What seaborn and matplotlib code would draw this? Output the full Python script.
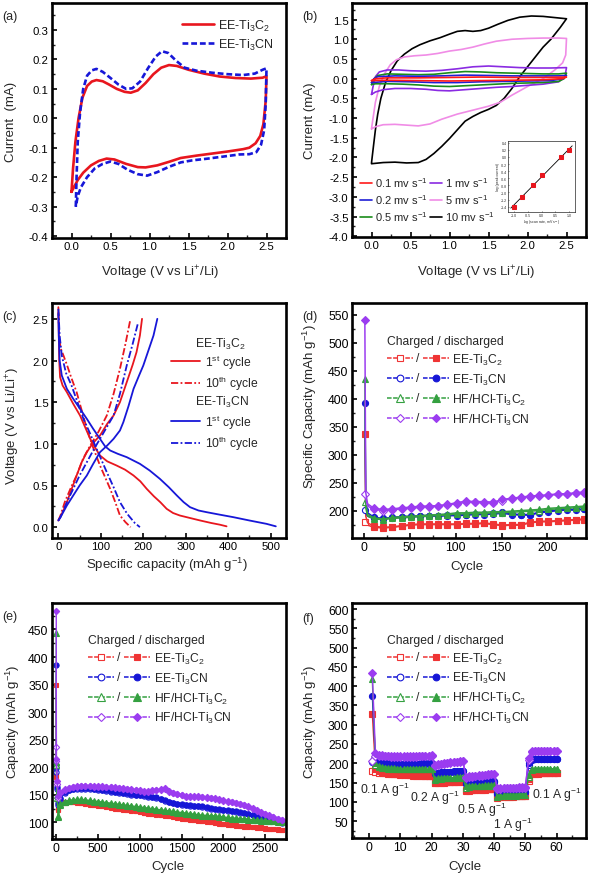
import numpy as np
import matplotlib
matplotlib.use("Agg")
import matplotlib.pyplot as plt
from matplotlib.lines import Line2D
from matplotlib.text import Text
from matplotlib.legend_handler import HandlerBase
from matplotlib.ticker import AutoMinorLocator, MultipleLocator, FormatStrFormatter
import seaborn as sns

# ---------------- data ----------------
# (a) CV at 0.1 mV/s, closed loops as (voltage, current) pairs
a_c2_loop = [(0.0, -0.25), (0.02, -0.17), (0.05, -0.08), (0.09, 0.0), (0.14, 0.07), (0.2, 0.11),
             (0.26, 0.125), (0.32, 0.13), (0.4, 0.126), (0.48, 0.115), (0.58, 0.1), (0.68, 0.09),
             (0.76, 0.087), (0.85, 0.095), (0.95, 0.12), (1.05, 0.15), (1.15, 0.172), (1.25, 0.181),
             (1.35, 0.178), (1.5, 0.165), (1.7, 0.152), (1.9, 0.142), (2.1, 0.137), (2.3, 0.135),
             (2.45, 0.138), (2.5, 0.143),
             (2.49, 0.06), (2.46, -0.02), (2.42, -0.06), (2.36, -0.085), (2.28, -0.1), (2.2, -0.105),
             (2.0, -0.113), (1.8, -0.12), (1.6, -0.127), (1.4, -0.135), (1.25, -0.148), (1.1, -0.16),
             (0.95, -0.167), (0.85, -0.166), (0.7, -0.155), (0.55, -0.14), (0.45, -0.137),
             (0.35, -0.145), (0.25, -0.16), (0.15, -0.185), (0.08, -0.21), (0.03, -0.235), (0.0, -0.25)]
a_cn_loop = [(0.055, -0.30), (0.065, -0.2), (0.08, -0.08), (0.11, 0.02), (0.15, 0.1), (0.2, 0.145),
             (0.26, 0.163), (0.32, 0.168), (0.4, 0.158), (0.5, 0.137), (0.6, 0.115), (0.7, 0.1),
             (0.78, 0.102), (0.88, 0.125), (0.98, 0.17), (1.08, 0.21), (1.16, 0.228), (1.24, 0.222),
             (1.34, 0.196), (1.45, 0.172), (1.6, 0.162), (1.8, 0.155), (2.0, 0.15), (2.2, 0.147),
             (2.35, 0.152), (2.45, 0.165), (2.5, 0.17),
             (2.49, 0.05), (2.47, -0.04), (2.43, -0.09), (2.37, -0.115), (2.28, -0.122), (2.15, -0.123),
             (1.95, -0.13), (1.75, -0.137), (1.55, -0.143), (1.4, -0.15), (1.25, -0.165), (1.1, -0.183),
             (0.97, -0.195), (0.85, -0.19), (0.72, -0.175), (0.6, -0.155), (0.5, -0.147), (0.4, -0.155),
             (0.3, -0.17), (0.2, -0.2), (0.12, -0.235), (0.08, -0.265), (0.055, -0.30)]

# (b) CV at different scan rates
b_01 = [(0.0, -0.05), (0.05, 0.0), (0.2, 0.02), (0.6, 0.02), (1.0, 0.03), (1.4, 0.04), (1.8, 0.03),
        (2.2, 0.03), (2.5, 0.04), (2.45, 0.0), (2.2, -0.03), (1.8, -0.04), (1.4, -0.05), (1.0, -0.06),
        (0.6, -0.05), (0.2, -0.04), (0.0, -0.05)]
b_02 = [(0.0, -0.1), (0.03, 0.0), (0.08, 0.05), (0.3, 0.07), (0.6, 0.06), (0.9, 0.07), (1.2, 0.09),
        (1.5, 0.08), (1.8, 0.07), (2.1, 0.07), (2.4, 0.07), (2.5, 0.08), (2.46, 0.0), (2.3, -0.05),
        (2.0, -0.06), (1.7, -0.07), (1.4, -0.08), (1.1, -0.1), (0.8, -0.1), (0.5, -0.08), (0.2, -0.07),
        (0.0, -0.1)]
b_05 = [(0.0, -0.15), (0.03, -0.02), (0.08, 0.08), (0.2, 0.12), (0.4, 0.11), (0.6, 0.1), (0.8, 0.11),
        (1.0, 0.15), (1.2, 0.18), (1.4, 0.17), (1.6, 0.15), (1.8, 0.14), (2.0, 0.13), (2.2, 0.12),
        (2.4, 0.12), (2.5, 0.14), (2.47, 0.0), (2.4, -0.07), (2.2, -0.1), (2.0, -0.11), (1.8, -0.12),
        (1.6, -0.14), (1.4, -0.16), (1.2, -0.18), (1.0, -0.2), (0.8, -0.19), (0.6, -0.16), (0.4, -0.14),
        (0.2, -0.13), (0.05, -0.13), (0.0, -0.15)]
b_1 = [(0.0, -0.4), (0.02, -0.2), (0.05, 0.05), (0.1, 0.17), (0.2, 0.22), (0.35, 0.22), (0.5, 0.2),
       (0.7, 0.19), (0.9, 0.21), (1.1, 0.25), (1.3, 0.3), (1.5, 0.32), (1.7, 0.3), (1.9, 0.28), (2.1, 0.27),
       (2.3, 0.27), (2.5, 0.28), (2.48, 0.05), (2.4, -0.08), (2.2, -0.14), (2.0, -0.17), (1.8, -0.2),
       (1.6, -0.22), (1.4, -0.25), (1.2, -0.28), (1.0, -0.31), (0.85, -0.3), (0.7, -0.27), (0.5, -0.25),
       (0.3, -0.25), (0.15, -0.28), (0.05, -0.34), (0.0, -0.4)]
b_5 = [(0.0, -1.27), (0.02, -1.0), (0.05, -0.6), (0.1, -0.2), (0.16, 0.1), (0.24, 0.35), (0.32, 0.48),
       (0.42, 0.55), (0.55, 0.58), (0.7, 0.6), (0.85, 0.64), (1.0, 0.7), (1.15, 0.74), (1.3, 0.8),
       (1.45, 0.88), (1.6, 0.95), (1.8, 1.0), (2.0, 1.02), (2.2, 1.03), (2.4, 1.03), (2.5, 1.02),
       (2.49, 0.6), (2.45, 0.4), (2.35, 0.22), (2.2, 0.0), (2.0, -0.2), (1.8, -0.42), (1.65, -0.6),
       (1.5, -0.7), (1.3, -0.8), (1.1, -0.9), (0.9, -1.03), (0.75, -1.15), (0.6, -1.2), (0.45, -1.18),
       (0.3, -1.16), (0.15, -1.17), (0.05, -1.22), (0.0, -1.28)]
b_10 = [(0.0, -2.14), (0.02, -1.8), (0.05, -1.3), (0.08, -0.9), (0.12, -0.5), (0.18, -0.1), (0.25, 0.2),
        (0.33, 0.45), (0.42, 0.62), (0.52, 0.76), (0.62, 0.86), (0.75, 0.96), (0.88, 1.04), (1.0, 1.13),
        (1.1, 1.2), (1.2, 1.22), (1.3, 1.2), (1.4, 1.22), (1.5, 1.28), (1.62, 1.38), (1.75, 1.48),
        (1.9, 1.56), (2.05, 1.59), (2.2, 1.58), (2.35, 1.55), (2.5, 1.52),
        (2.42, 1.3), (2.3, 1.0), (2.2, 0.8), (2.1, 0.55), (2.0, 0.3), (1.9, 0.05), (1.8, -0.25),
        (1.7, -0.5), (1.6, -0.68), (1.5, -0.78), (1.4, -0.86), (1.3, -0.96), (1.2, -1.08), (1.1, -1.3),
        (1.0, -1.52), (0.9, -1.72), (0.8, -1.9), (0.7, -2.05), (0.6, -2.13), (0.45, -2.14), (0.3, -2.12),
        (0.15, -2.13), (0.0, -2.16)]
b_rate_labels = ["0.1 mv s$^{-1}$", "0.2 mv s$^{-1}$", "0.5 mv s$^{-1}$",
                 "1 mv s$^{-1}$", "5 mv s$^{-1}$", "10 mv s$^{-1}$"]
# inset: log(scan rate) vs log(peak current)
inset_log_rate = [-1.0, -0.7, -0.3, 0.0, 0.7, 1.0]
inset_log_peak = [-1.4, -1.12, -0.78, -0.52, 0.0, 0.2]

# (c) galvanostatic profiles, (capacity, voltage)
c_c2_1_dis = [(0, 2.64), (1, 2.3), (2, 2.0), (4, 1.8), (10, 1.7), (20, 1.62), (35, 1.48), (51, 1.34),
              (63, 1.2), (75, 1.06), (87, 0.95), (98, 0.86), (115, 0.79), (137, 0.74), (157, 0.69),
              (177, 0.62), (193, 0.55), (208, 0.46), (225, 0.37), (240, 0.3), (255, 0.22), (270, 0.17),
              (286, 0.14), (310, 0.11), (334, 0.08), (360, 0.05), (380, 0.03), (396, 0.01)]
c_c2_1_chg = [(0, 0.08), (2, 0.1), (10, 0.18), (20, 0.3), (30, 0.44), (43, 0.62), (55, 0.78), (67, 0.9),
              (80, 1.0), (98, 1.1), (115, 1.24), (130, 1.34), (145, 1.5), (161, 1.74), (175, 1.95),
              (184, 2.1), (192, 2.3), (197, 2.5)]
c_c2_10_dis = [(0, 2.58), (2, 2.3), (5, 2.15), (12, 2.06), (20, 1.95), (30, 1.8), (43, 1.62), (55, 1.4),
               (67, 1.18), (80, 0.98), (98, 0.74), (110, 0.6), (122, 0.46), (134, 0.3), (145, 0.14),
               (158, 0.06), (170, 0.0)]
c_c2_10_chg = [(0, 0.08), (5, 0.14), (15, 0.3), (30, 0.48), (43, 0.62), (58, 0.82), (75, 0.98), (95, 1.15),
               (114, 1.34), (130, 1.6), (145, 1.9), (158, 2.2), (169, 2.48)]
c_cn_1_dis = [(0, 2.56), (1, 2.3), (3, 2.0), (8, 1.82), (20, 1.66), (35, 1.54), (51, 1.42), (67, 1.3),
              (82, 1.18), (98, 1.06), (110, 0.97), (122, 0.92), (140, 0.88), (161, 0.84), (192, 0.76),
              (215, 0.68), (239, 0.58), (260, 0.48), (279, 0.38), (295, 0.3), (310, 0.24), (330, 0.2),
              (349, 0.18), (380, 0.15), (412, 0.12), (450, 0.08), (490, 0.04), (512, 0.01)]
c_cn_1_chg = [(0, 0.08), (5, 0.12), (20, 0.26), (35, 0.38), (50, 0.5), (67, 0.62), (82, 0.76), (98, 0.9),
              (115, 0.98), (130, 1.06), (145, 1.16), (153, 1.26), (165, 1.45), (177, 1.66), (190, 1.82),
              (200, 1.94), (212, 2.12), (224, 2.3), (233, 2.5)]
c_cn_10_dis = [(0, 2.62), (3, 2.3), (8, 2.06), (18, 1.85), (31, 1.7), (45, 1.5), (59, 1.3), (75, 1.12),
               (90, 0.94), (102, 0.8), (114, 0.66), (130, 0.48), (145, 0.3), (162, 0.16), (180, 0.05),
               (192, 0.0)]
c_cn_10_chg = [(0, 0.08), (5, 0.12), (20, 0.3), (35, 0.46), (50, 0.62), (67, 0.78), (82, 0.92), (98, 1.06),
               (114, 1.2), (130, 1.34), (145, 1.6), (161, 1.94), (175, 2.2), (188, 2.46)]

samples = ["EE-Ti$_3$C$_2$", "EE-Ti$_3$CN", "HF/HCl-Ti$_3$C$_2$", "HF/HCl-Ti$_3$CN"]

# (d) cycling at 0.1 A/g
d_cycle = [1, 2, 4, 11, 21, 31, 41, 51, 61, 71, 81, 91, 101, 111, 121, 131, 141, 151, 161, 171,
           181, 191, 201, 211, 221, 231, 240]
d_dis = [
    [336, 190, 178, 172, 170, 171, 173, 175, 176, 176, 176, 176, 176, 177, 177, 178, 176, 174, 175, 175,
     179, 181, 181, 182, 183, 184, 185],
    [392, 215, 196, 188, 186, 188, 189, 190, 191, 191, 191, 192, 192, 193, 194, 194, 195, 197, 194, 193,
     193, 197, 199, 201, 202, 202, 203],
    [436, 212, 193, 187, 185, 188, 189, 190, 191, 192, 193, 194, 196, 196, 197, 197, 198, 198, 199, 200,
     201, 202, 204, 205, 206, 207, 208],
    [541, 232, 212, 204, 202, 203, 205, 206, 208, 208, 209, 211, 214, 217, 216, 216, 215, 220, 222, 224,
     226, 227, 228, 230, 230, 232, 233],
]
d_chg = [
    [179, 180, 174, 170, 169, 170, 172, 174, 175, 175, 175, 175, 175, 176, 176, 177, 175, 173, 174, 174,
     178, 180, 180, 181, 182, 183, 184],
    [201, 196, 190, 186, 185, 187, 188, 189, 190, 190, 190, 191, 191, 192, 193, 193, 194, 195, 193, 192,
     192, 196, 198, 200, 201, 201, 202],
    [215, 205, 190, 185, 184, 186, 187, 188, 189, 190, 191, 192, 194, 194, 195, 195, 196, 196, 197, 198,
     199, 200, 202, 203, 204, 205, 206],
    [230, 222, 208, 202, 200, 201, 203, 204, 206, 207, 208, 210, 212, 215, 215, 214, 214, 218, 221, 223,
     225, 226, 227, 229, 229, 231, 231],
]

# (e) long cycling at 1 A/g (cycles 1, 2, 10, 25, then every 50)
e_cycle = [1, 2, 10, 25] + list(range(50, 2701, 50))
e_dis = [
    [350, 185, 170, 125,
     133, 137, 138, 138, 137, 136, 135, 133, 132, 131, 130, 129, 128, 126, 125, 124, 123, 122, 121, 120,
     118, 117, 116, 115, 114, 113, 112, 111, 109, 108, 107, 106, 105, 104, 103, 102, 101, 100, 99, 98,
     97, 96, 95, 94, 93, 93, 92, 91, 91, 90, 89, 89, 88, 87],
    [385, 200, 165, 135,
     145, 155, 159, 161, 162, 162, 162, 162, 161, 160, 159, 158, 157, 156, 155, 154, 153, 151, 150, 150,
     149, 148, 147, 146, 143, 140, 138, 136, 134, 133, 132, 131, 130, 130, 129, 128, 126, 125, 124, 123,
     122, 121, 120, 119, 118, 116, 114, 112, 110, 108, 106, 104, 102, 100],
    [443, 210, 150, 110,
     133, 138, 140, 141, 142, 142, 141, 140, 139, 138, 137, 136, 135, 134, 133, 132, 131, 130, 129, 128,
     127, 126, 125, 124, 123, 122, 121, 120, 119, 118, 117, 116, 115, 114, 113, 113, 112, 112, 111, 110,
     109, 108, 108, 107, 107, 106, 105, 105, 104, 104, 103, 103, 102, 102],
    [484, 215, 175, 148,
     155, 160, 163, 165, 166, 167, 167, 167, 166, 166, 166, 165, 165, 164, 163, 162, 161, 160, 159, 158,
     157, 157, 158, 159, 160, 162, 157, 154, 152, 150, 148, 148, 148, 148, 147, 146, 145, 144, 142, 140,
     139, 138, 136, 134, 132, 129, 126, 122, 119, 116, 113, 110, 107, 105],
]
e_chg = [
    [190, 182, 168, 122,
     131, 136, 137, 137, 136, 135, 134, 132, 131, 130, 129, 128, 127, 125, 124, 123, 122, 121, 120, 119,
     117, 116, 115, 114, 113, 112, 111, 110, 108, 107, 106, 105, 104, 103, 102, 101, 100, 99, 98, 97,
     96, 95, 94, 93, 92, 92, 91, 90, 90, 89, 88, 88, 87, 86],
    [192, 198, 160, 132,
     143, 154, 158, 160, 161, 161, 161, 161, 160, 159, 158, 157, 156, 155, 154, 153, 152, 150, 149, 149,
     148, 147, 146, 145, 142, 139, 137, 135, 133, 132, 131, 130, 129, 129, 128, 127, 125, 124, 123, 122,
     121, 120, 119, 118, 117, 115, 113, 111, 109, 107, 105, 103, 101, 99],
    [210, 205, 145, 112,
     131, 137, 139, 140, 141, 141, 140, 139, 138, 137, 136, 135, 134, 133, 132, 131, 130, 129, 128, 127,
     126, 125, 124, 123, 122, 121, 120, 119, 118, 117, 116, 115, 114, 113, 112, 112, 111, 111, 110, 109,
     108, 107, 107, 106, 106, 105, 104, 104, 103, 103, 102, 102, 101, 101],
    [236, 212, 170, 145,
     153, 159, 162, 164, 165, 166, 166, 166, 165, 165, 165, 164, 164, 163, 162, 161, 160, 159, 158, 157,
     156, 156, 157, 158, 159, 161, 156, 153, 151, 149, 147, 147, 147, 147, 146, 145, 144, 143, 141, 139,
     138, 137, 135, 133, 131, 128, 125, 121, 118, 115, 112, 109, 106, 104],
]

# (f) rate capability, cycles 1-60 (0.1 / 0.2 / 0.5 / 1 / 0.1 A/g)
f_cycle = list(range(1, 61))
f_dis = [
    [328, 185, 180, 178, 176, 175, 174, 173, 172, 172, 171, 171, 170, 170, 169, 169, 169, 168, 168, 168]
    + [150, 151, 151, 152, 152, 152, 152, 153, 153, 153]
    + [130, 131, 131, 132, 132, 132, 133, 133, 133, 134]
    + [113, 114, 114, 114, 115, 115, 115, 115, 116, 116]
    + [160, 174, 175, 175, 175, 175, 175, 175, 175, 175],
    [375, 212, 205, 203, 202, 201, 200, 200, 199, 199, 199, 199, 199, 199, 199, 199, 200, 200, 200, 200]
    + [174, 176, 177, 177, 178, 178, 179, 179, 180, 180]
    + [150, 150, 151, 151, 152, 152, 152, 153, 153, 154]
    + [124, 124, 124, 124, 125, 125, 125, 125, 126, 126]
    + [200, 212, 212, 212, 212, 212, 212, 212, 212, 212],
    [418, 200, 192, 190, 189, 188, 187, 187, 186, 186, 186, 185, 185, 185, 185, 185, 185, 185, 185, 185]
    + [160, 161, 162, 162, 163, 163, 163, 164, 164, 164]
    + [140, 141, 141, 142, 142, 142, 143, 143, 143, 144]
    + [116, 116, 117, 117, 117, 117, 118, 118, 118, 118]
    + [170, 186, 186, 186, 186, 186, 186, 186, 186, 186],
    [435, 226, 222, 221, 220, 219, 219, 218, 218, 218, 218, 218, 218, 218, 218, 219, 219, 220, 220, 221]
    + [196, 198, 199, 200, 201, 202, 203, 204, 205, 206]
    + [165, 166, 167, 168, 169, 170, 170, 171, 172, 173]
    + [137, 136, 136, 136, 137, 137, 137, 138, 138, 139]
    + [213, 232, 233, 233, 233, 233, 233, 233, 233, 233],
]
f_chg = [
    [181, 178, 176, 175, 174, 173, 172, 171, 171, 170, 170, 169, 169, 168, 168, 168, 167, 167, 167, 167]
    + [148, 149, 150, 150, 151, 151, 151, 152, 152, 152]
    + [128, 129, 130, 130, 131, 131, 131, 132, 132, 132]
    + [111, 112, 112, 113, 113, 113, 114, 114, 114, 115]
    + [155, 172, 173, 173, 174, 174, 174, 174, 174, 174],
    [203, 204, 202, 201, 200, 199, 199, 198, 198, 198, 198, 198, 198, 198, 198, 198, 199, 199, 199, 199]
    + [172, 174, 175, 176, 176, 177, 177, 178, 178, 179]
    + [147, 148, 149, 150, 150, 151, 151, 151, 152, 152]
    + [121, 122, 122, 123, 123, 123, 124, 124, 124, 125]
    + [195, 209, 210, 211, 211, 211, 211, 211, 211, 211],
    [210, 195, 190, 188, 187, 186, 186, 185, 185, 185, 184, 184, 184, 184, 184, 184, 184, 184, 184, 184]
    + [157, 159, 160, 161, 161, 162, 162, 162, 163, 163]
    + [137, 139, 140, 140, 141, 141, 142, 142, 142, 143]
    + [113, 114, 115, 115, 116, 116, 116, 117, 117, 117]
    + [165, 183, 184, 185, 185, 185, 185, 185, 185, 185],
    [207, 220, 219, 219, 218, 218, 217, 217, 217, 217, 217, 217, 217, 217, 217, 218, 218, 219, 219, 220]
    + [193, 196, 197, 199, 200, 201, 202, 203, 204, 205]
    + [162, 164, 165, 166, 167, 168, 169, 170, 171, 172]
    + [134, 134, 135, 135, 135, 136, 136, 136, 137, 137]
    + [208, 230, 231, 232, 232, 232, 232, 232, 232, 232],
]
f_rate_text = ["0.1 A g$^{-1}$", "0.2 A g$^{-1}$", "0.5 A g$^{-1}$", "1 A g$^{-1}$", "0.1 A g$^{-1}$"]
f_rate_pos = [(-3.0, 134), (13.0, 113), (28.0, 82), (39.5, 43), (52.0, 121)]

# ---------------- style ----------------
sns.set_theme(style="ticks")
plt.rcParams["font.family"] = ["Liberation Sans", "DejaVu Sans"]
plt.rcParams["mathtext.fontset"] = "custom"
plt.rcParams["mathtext.rm"] = "Liberation Sans"
plt.rcParams["mathtext.it"] = "Liberation Sans:italic"
plt.rcParams["mathtext.default"] = "regular"
plt.rcParams["axes.unicode_minus"] = False

RED = "#e8161e"
BLUE = "#1717d8"
CV_COLORS = ["#ff1a1a", "#1f1fd6", "#1a8c1a", "#8a2be2", "#f08ce6", "black"]
S_COLORS = ["#ef3434", "#1616d6", "#34a040", "#9b3cf0"]
S_MARKERS = ["s", "o", "^", "D"]
S_MS = [4.2, 4.4, 4.6, 3.8]

W, H = 591, 878
fig = plt.figure(figsize=(W / 100, H / 100), dpi=100)


class SlashHandler(HandlerBase):
    """Draws  -o- / -*-  : open (charged) handle, a slash, filled (discharged) handle."""

    def create_artists(self, legend, orig_handle, xdescent, ydescent, width, height, fontsize, trans):
        h_open, h_fill = orig_handle
        seg = width * 0.42
        y = height / 2 - ydescent
        x0 = -xdescent
        arts = []
        for h, start in ((h_open, x0), (h_fill, x0 + width - seg)):
            ln = Line2D([start, start + seg / 2, start + seg], [y, y, y])
            ln.update_from(h)
            ln.set_markevery([1])
            ln.set_transform(trans)
            arts.append(ln)
        arts.append(Text(x0 + width / 2, y, "/", fontsize=fontsize, ha="center", va="center",
                         transform=trans))
        return arts


def box(l, t, r, b):
    return fig.add_axes([l / W, 1 - b / H, (r - l) / W, (b - t) / H])


def style(ax, xmaj, ymaj, size=8.2):
    for sp in ax.spines.values():
        sp.set_linewidth(1.9)
        sp.set_color("black")
    ax.xaxis.set_major_locator(MultipleLocator(xmaj))
    ax.yaxis.set_major_locator(MultipleLocator(ymaj))
    ax.xaxis.set_minor_locator(AutoMinorLocator(2))
    ax.yaxis.set_minor_locator(AutoMinorLocator(2))
    ax.tick_params(which="major", direction="in", length=3.5, width=1.2, labelsize=size, pad=2.5,
                   colors="black")
    ax.tick_params(which="minor", direction="in", length=2, width=1.0)


def curve(ax, pts, **kw):
    x = [p[0] for p in pts]
    y = [p[1] for p in pts]
    sns.lineplot(x=x, y=y, sort=False, estimator=None, ax=ax, legend=False, **kw)
    return ax.lines[-1]


def labels(ax, xl, yl, xpos, ypos, size=9.5):
    ax.set_xlabel(xl, fontsize=size)
    ax.set_ylabel(yl, fontsize=size)
    ax.xaxis.set_label_coords(*xpos)
    ax.yaxis.set_label_coords(*ypos)


def cycling(ax, x, dis, chg, ms_scale=1.0, lw=1.1, markevery=None):
    for i in range(4):
        for vals, filled in ((chg[i], False), (dis[i], True)):
            kw = dict(color=S_COLORS[i], marker=S_MARKERS[i], markersize=S_MS[i] * ms_scale,
                      markeredgecolor=S_COLORS[i], markeredgewidth=0.8,
                      markerfacecolor=S_COLORS[i] if filled else "white", linewidth=lw)
            if markevery is not None:
                kw["markevery"] = markevery
            sns.lineplot(x=x, y=vals, sort=False, estimator=None, ax=ax, legend=False, **kw)


def cycling_legend(ax, anchor):
    hs = []
    for i in range(4):
        pair = []
        for filled in (False, True):
            pair.append(Line2D([], [], color=S_COLORS[i], marker=S_MARKERS[i], markersize=S_MS[i] * 1.1,
                               markeredgecolor=S_COLORS[i], markeredgewidth=0.8, lw=1.1, ls=(0, (3, 1)),
                               markerfacecolor=S_COLORS[i] if filled else "white"))
        hs.append(tuple(pair))
    leg = ax.legend(hs, samples, loc="upper left", bbox_to_anchor=anchor, frameon=False,
                    handler_map={tuple: SlashHandler()},
                    fontsize=8.7, title="Charged / discharged", title_fontsize=8.7,
                    handlelength=5.1, handletextpad=0.3, labelspacing=0.4,
                    borderpad=0.2, borderaxespad=0.0, alignment="left")
    return leg


def panel_label(x, y, s):
    fig.text(x / W, 1 - y / H, s, fontsize=9, va="center", ha="left")


# ---------------- (a) ----------------
ax = box(52, 4, 286, 239)
la = curve(ax, a_c2_loop, color=RED, linewidth=1.9)
lb = curve(ax, a_cn_loop, color=BLUE, linewidth=1.9, linestyle=(0, (2.2, 1.1)))
ax.set_xlim(-0.25, 2.75)
ax.set_ylim(-0.407, 0.392)
style(ax, 0.5, 0.1)
ax.yaxis.set_major_formatter(FormatStrFormatter("%.1f"))
labels(ax, "Voltage (V vs Li$^{+}$/Li)", "Current  (mA)", (0.46, -0.105), (-0.15, 0.5))
ax.legend([la, lb], ["EE-Ti$_3$C$_2$", "EE-Ti$_3$CN"], loc="upper right", bbox_to_anchor=(0.985, 0.975),
          frameon=False, fontsize=9, handlelength=2.5, handletextpad=0.35, labelspacing=0.3,
          borderaxespad=0.3)
panel_label(2, 17, "(a)")

# ---------------- (b) ----------------
ax = box(352, 4, 586, 238)
b_sets = [b_01, b_02, b_05, b_1, b_5, b_10]
b_lines = [None] * 6
for k in [5, 4, 3, 2, 1, 0]:
    b_lines[k] = curve(ax, b_sets[k], color=CV_COLORS[k], linewidth=1.2)
ax.set_xlim(-0.25, 2.75)
ax.set_ylim(-4.02, 1.92)
style(ax, 0.5, 0.5)
ax.yaxis.set_major_formatter(FormatStrFormatter("%.1f"))
labels(ax, "Voltage (V vs Li$^{+}$/Li)", "Current (mA)", (0.53, -0.11), (-0.155, 0.5))
ax.legend(b_lines, b_rate_labels, ncol=2, loc="lower left", bbox_to_anchor=(0.025, 0.05), frameon=False,
          fontsize=8.0, handlelength=1.1, handletextpad=0.25, columnspacing=0.2, labelspacing=0.3,
          borderpad=0.2, borderaxespad=0.0)
panel_label(302, 17, "(b)")

ins = box(508, 142, 575, 213)
sns.lineplot(x=inset_log_rate, y=inset_log_peak, ax=ins, legend=False, color=RED, marker="s",
             markersize=2.2, markeredgecolor=RED, linewidth=0)
fit = np.polyfit(inset_log_rate, inset_log_peak, 1)
fx = np.array([-1.1, 1.1])
ins.plot(fx, np.polyval(fit, fx), color="black", lw=0.6, zorder=1)
ins.set_xlim(-1.2, 1.2)
ins.set_ylim(-1.55, 0.45)
ins.xaxis.set_major_locator(MultipleLocator(0.5))
ins.yaxis.set_major_locator(MultipleLocator(0.2))
ins.tick_params(direction="in", length=1, width=0.4, labelsize=2.5, pad=0.8)
for sp in ins.spines.values():
    sp.set_linewidth(0.5)
ins.set_xlabel("log (scan rate, mV s$^{-1}$)", fontsize=2.5, labelpad=0.5)
ins.set_ylabel("log (peak current)", fontsize=2.5, labelpad=0.5)

# ---------------- (c) ----------------
ax = box(52, 304, 286, 539)
dashdot = (0, (4, 1.3, 1, 1.3))
h1 = curve(ax, c_c2_1_dis, color=RED, linewidth=1.3)
curve(ax, c_c2_1_chg, color=RED, linewidth=1.3)
h2 = curve(ax, c_c2_10_dis, color=RED, linewidth=1.3, linestyle=dashdot)
curve(ax, c_c2_10_chg, color=RED, linewidth=1.3, linestyle=dashdot)
h3 = curve(ax, c_cn_1_dis, color=BLUE, linewidth=1.3)
curve(ax, c_cn_1_chg, color=BLUE, linewidth=1.3)
h4 = curve(ax, c_cn_10_dis, color=BLUE, linewidth=1.3, linestyle=dashdot)
curve(ax, c_cn_10_chg, color=BLUE, linewidth=1.3, linestyle=dashdot)
ax.set_xlim(-15, 536)
ax.set_ylim(-0.13, 2.69)
style(ax, 100, 0.5)
ax.yaxis.set_major_formatter(FormatStrFormatter("%.1f"))
labels(ax, "Specific capacity (mAh g$^{-1}$)", "Voltage (V vs Li/Li$^{+}$)", (0.49, -0.07),
       (-0.13, 0.48))
ax.text(0.61, 0.826, "EE-Ti$_3$C$_2$", transform=ax.transAxes, fontsize=8.7, va="center")
ax.text(0.61, 0.579, "EE-Ti$_3$CN", transform=ax.transAxes, fontsize=8.7, va="center")
cyc_labs = ["1$^{st}$ cycle", "10$^{th}$ cycle"]
leg1 = ax.legend([h1, h2], cyc_labs, loc="upper left", bbox_to_anchor=(0.5, 0.80), frameon=False,
                 fontsize=8.7, handlelength=2.4, handletextpad=0.35, labelspacing=0.3,
                 borderpad=0.2, borderaxespad=0.0)
ax.add_artist(leg1)
ax.legend([h3, h4], cyc_labs, loc="upper left", bbox_to_anchor=(0.5, 0.545), frameon=False,
          fontsize=8.7, handlelength=2.4, handletextpad=0.35, labelspacing=0.3,
          borderpad=0.2, borderaxespad=0.0)
panel_label(2, 317, "(c)")

# ---------------- (d) ----------------
ax = box(352, 304, 586, 539)
cycling(ax, d_cycle, d_dis, d_chg, markevery=[0] + list(range(3, len(d_cycle))))
ax.set_xlim(-13, 242)
ax.set_ylim(151, 571)
style(ax, 50, 50, size=8.8)
labels(ax, "Cycle", "Specific Capacity (mAh g$^{-1}$)", (0.49, -0.095), (-0.14, 0.565))
cycling_legend(ax, (0.14, 0.875))
panel_label(302, 317, "(d)")

# ---------------- (e) ----------------
ax = box(52, 604, 286, 840)
cycling(ax, e_cycle, e_dis, e_chg, ms_scale=0.85, lw=1.0)
ax.set_xlim(-50, 2750)
ax.set_ylim(70, 498)
style(ax, 500, 50, size=8.8)
labels(ax, "Cycle", "Capacity (mAh g$^{-1}$)", (0.496, -0.09), (-0.13, 0.5))
cycling_legend(ax, (0.145, 0.88))
panel_label(2, 617, "(e)")

# ---------------- (f) ----------------
ax = box(352, 604, 586, 839)
cycling(ax, f_cycle, f_dis, f_chg, ms_scale=1.0, lw=1.0)
ax.set_xlim(-5.5, 69.4)
ax.set_ylim(6, 616)
style(ax, 10, 50, size=8.8)
labels(ax, "Cycle", "Capacity (mAh g$^{-1}$)", (0.483, -0.095), (-0.14, 0.5))
cycling_legend(ax, (0.14, 0.88))
for txt, (tx, ty) in zip(f_rate_text, f_rate_pos):
    ax.text(tx, ty, txt, fontsize=8.7, va="center", ha="left")
panel_label(302, 619, "(f)")

fig.savefig("out.png", dpi=100)
